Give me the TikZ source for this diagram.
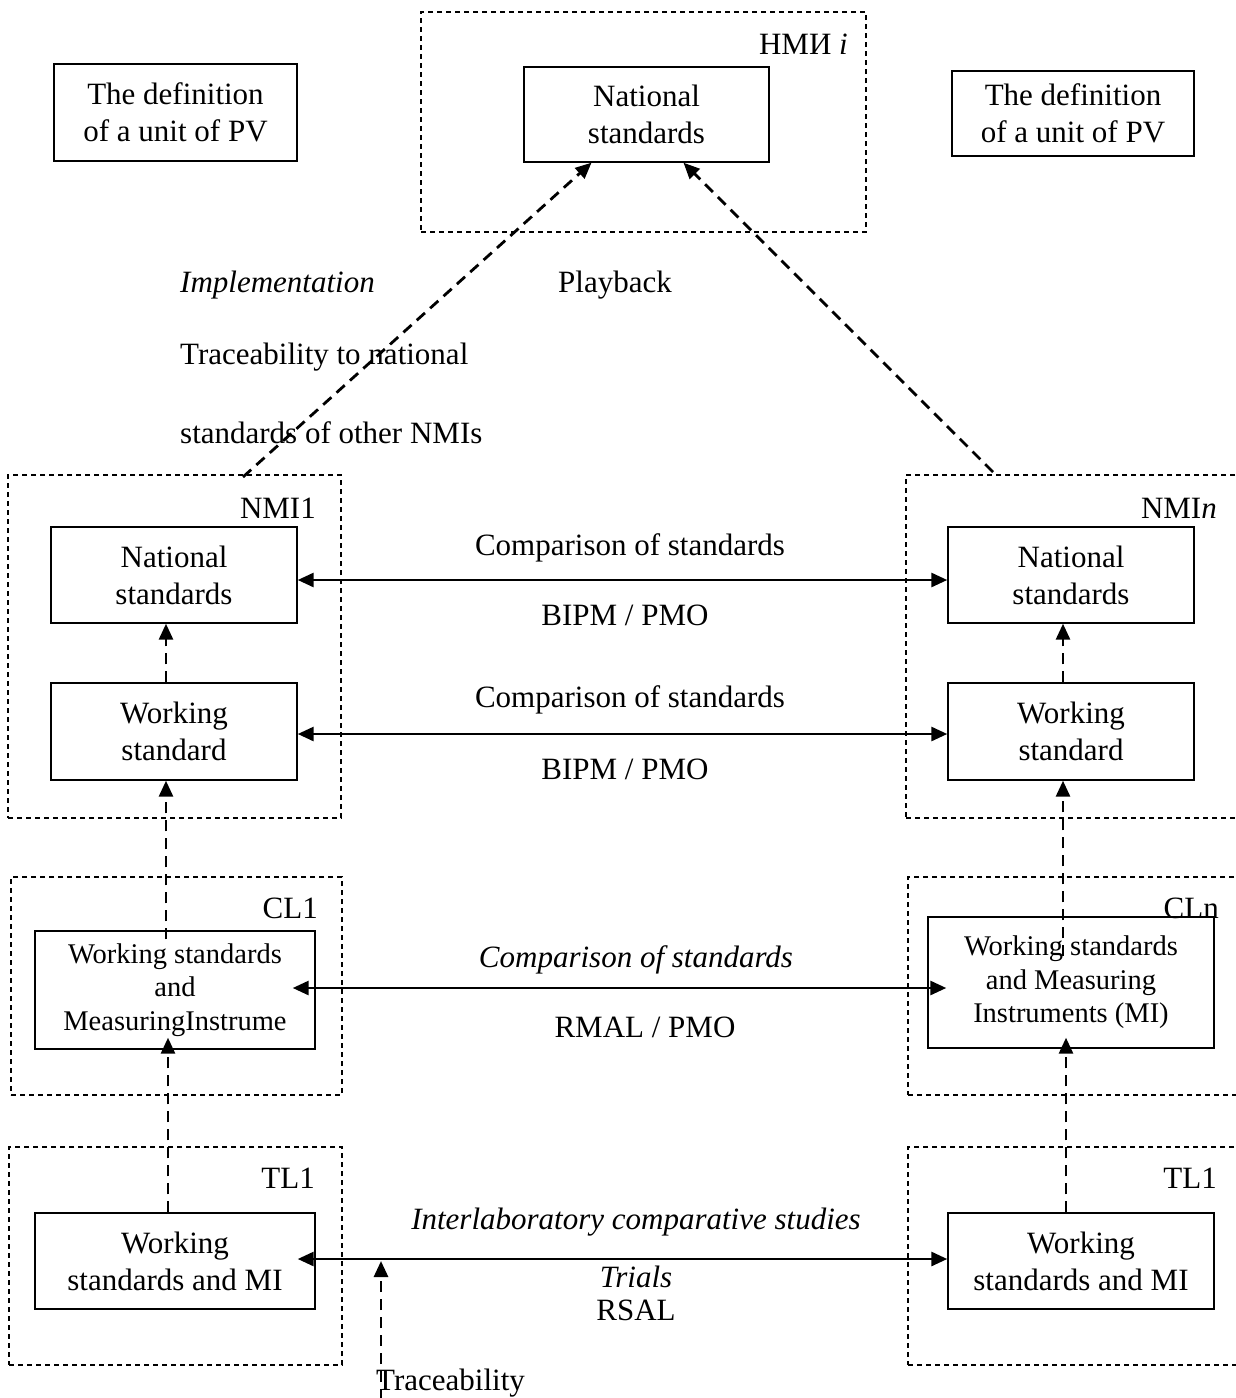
\documentclass[tikz,border=0pt]{standalone}
\usepackage{fontspec}
\setmainfont{Liberation Serif}
\usetikzlibrary{arrows.meta}

\begin{document}
\begin{tikzpicture}[x=1pt,y=-1pt]
        \tikzstyle{box}=[rectangle,draw=black,line width=1.4pt,align=center,inner sep=0pt,font=\fontsize{31}{37}\selectfont]
        \tikzstyle{group}=[rectangle,draw=black,line width=1.2pt,dash pattern=on 5pt off 4pt,inner sep=0pt]
        \tikzstyle{tag}=[inner sep=0pt,font=\fontsize{31}{37}\selectfont]
        \tikzstyle{link}=[draw=black,line width=2.8pt,{Triangle[length=16pt,width=14pt]}-{Triangle[length=16pt,width=14pt]}]
        \tikzstyle{trace}=[draw=black,line width=2.8pt,dash pattern=on 11pt off 7pt,-{Triangle[length=16pt,width=14pt]}]

        \useasboundingbox (0,0) rectangle (1235,1398);

       \begin{scope}
         % dashed frames of the institutes
         \node [group,minimum width=445,minimum height=220] (nmii) at (643.5,122) {};
         \node [group,minimum width=333,minimum height=343] (nmi1) at (174.5,646.5) {};
         \node [group,minimum width=344,minimum height=343] (nmin) at (1078,646.5) {};
         \node [group,minimum width=331,minimum height=218] (cl1) at (176.5,986) {};
         \node [group,minimum width=342,minimum height=218] (cln) at (1079,986) {};
         \node [group,minimum width=333,minimum height=218] (tl1) at (175.5,1256) {};
         \node [group,minimum width=342,minimum height=218] (tln) at (1079,1256) {};

         \node [tag,anchor=east] (nmiitag) at (848,44) {НМИ \textit{i}};
         \node [tag,anchor=east] (nmi1tag) at (316,508) {NMI1};
         \node [tag,anchor=east] (nmintag) at (1217,508) {NMI\textit{n}};
         \node [tag,anchor=east] (cl1tag) at (318,908) {CL1};
         \node [tag,anchor=east] (clntag) at (1219,908) {CLn};
         \node [tag,anchor=east] (tl1tag) at (315,1178) {TL1};
         \node [tag,anchor=east] (tlntag) at (1217,1178) {TL1};

         % boxes
         \node [box,minimum width=243,minimum height=97] (defl) at (175.5,112.5) {The definition\\of a unit of PV};
         \node [box,minimum width=242,minimum height=85] (defr) at (1073,113.5) {The definition\\of a unit of PV};
         \node [box,minimum width=245,minimum height=95] (nati) at (646.5,114.5) {National\\standards};
         \node [box,minimum width=246,minimum height=96] (natl) at (174,575) {National\\standards};
         \node [box,minimum width=246,minimum height=97] (wsl) at (174,731.5) {Working\\standard};
         \node [box,minimum width=246,minimum height=96] (natr) at (1071,575) {National\\standards};
         \node [box,minimum width=246,minimum height=97] (wsr) at (1071,731.5) {Working\\standard};
         \node [box,minimum width=280,minimum height=118,font=\fontsize{28.5}{33.5}\selectfont] (mil) at (175,990) {Working standards\\and\\MeasuringInstrume};
         \node [box,minimum width=286,minimum height=131,font=\fontsize{28.5}{33.5}\selectfont] (mir) at (1071,982.5) {Working standards\\and Measuring\\Instruments (MI)};
         \node [box,minimum width=280,minimum height=96] (tll) at (175,1261) {Working\\standards and MI};
         \node [box,minimum width=266,minimum height=96] (tlr) at (1081,1261) {Working\\standards and MI};

         % free texts
         \node [tag,anchor=west] (impl) at (180,285) {\textit{Implementation}};
         \node [tag,anchor=west] (play) at (558,285) {Playback};
         \node [tag,anchor=west] (trnat) at (180,357) {Traceability to national};
         \node [tag,anchor=west] (trnmi) at (180,433) {standards of other NMIs};
         \node [tag] (cmp1) at (630,548) {Comparison of standards};
         \node [tag] (bipm1) at (625,615) {BIPM / PMO};
         \node [tag] (cmp2) at (630,700) {Comparison of standards};
         \node [tag] (bipm2) at (625,769) {BIPM / PMO};
         \node [tag] (cmp3) at (636,960) {\textit{Comparison of standards}};
         \node [tag] (rmal) at (645,1027) {RMAL / PMO};
         \node [tag] (ilc) at (636,1222) {\textit{Interlaboratory comparative studies}};
         \node [tag] (trials) at (636,1277) {\textit{Trials}};
         \node [tag] (rsal) at (636,1310) {RSAL};
         \node [tag,anchor=west] (trace) at (376,1383) {Traceability};

         \coordinate (implfoot) at (243,477);
         \coordinate (playfoot) at (993,472);
         \coordinate (tracefoot) at (381,1400);
         \coordinate (tracetip) at (381,1261);

         % traceability (dashed)
         \draw[trace] (implfoot) -- ([xshift=-55]nati.south);
         \draw[trace] (playfoot) -- ([xshift=37]nati.south);
         \draw[trace] ([xshift=-8]wsl.north) -- ([xshift=-8]natl.south);
         \draw[trace] ([xshift=-8]wsr.north) -- ([xshift=-8]natr.south);
         \draw[trace] ([xshift=-9,yshift=-9]mil.north) -- ([xshift=-8]wsl.south);
         \draw[trace] ([xshift=-8,yshift=-40]mir.north) -- ([xshift=-8]wsr.south);
         \draw[trace] ([xshift=-7]tll.north) -- ([xshift=-7,yshift=12]mil.south);
         \draw[trace] ([xshift=-15]tlr.north) -- ([xshift=-5,yshift=11]mir.south);
         \draw[trace] (tracefoot) -- (tracetip);

         % comparisons (solid)
         \draw[link] ([yshift=-5]natl.east) -- ([yshift=-5]natr.west);
         \draw[link] ([yshift=-2.5]wsl.east) -- ([yshift=-2.5]wsr.west);
         \draw[link] ([xshift=-23,yshift=2]mil.east) -- ([xshift=19,yshift=-5.5]mir.west);
         \draw[link] ([xshift=-18,yshift=2]tll.east) -- ([yshift=2]tlr.west);
       \end{scope}
\end{tikzpicture}
\end{document}
